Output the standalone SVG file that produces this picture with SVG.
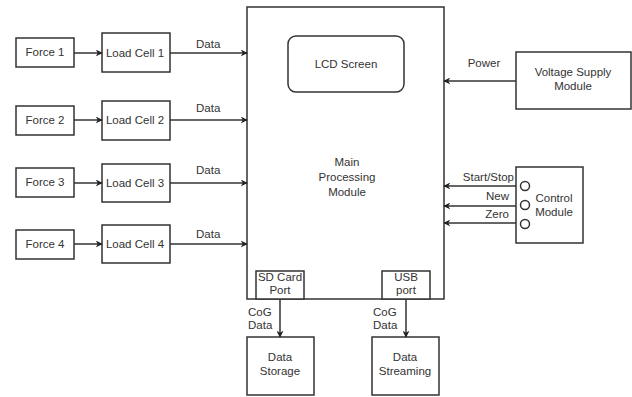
<svg xmlns="http://www.w3.org/2000/svg" width="632" height="397" viewBox="0 0 632 397">
<style>
.box{fill:#fff;stroke:#333;stroke-width:1.5}
.ln{fill:none;stroke:#333;stroke-width:1.5}
text{font-family:"Liberation Sans",Arial,sans-serif;font-size:11.5px;fill:#333}
.c{text-anchor:middle}
.r{text-anchor:end}
</style>
<defs>
<marker id="ah" viewBox="0 0 10 10" refX="9" refY="5" markerWidth="7" markerHeight="7" markerUnits="userSpaceOnUse" orient="auto">
<path d="M0,0 L10,5 L0,10 L3,5 Z" fill="#222"/>
</marker>
</defs>
<rect width="632" height="397" fill="#fff"/>
<g id="main">
<rect class="box" x="247" y="7" width="197" height="292"/>
<text class="c" x="347" y="166">Main</text>
<text class="c" x="347" y="181">Processing</text>
<text class="c" x="347" y="196">Module</text>
</g>
<g id="lcd">
<rect class="box" x="288" y="36" width="116" height="56" rx="8"/>
<text class="c" x="346" y="68">LCD Screen</text>
</g>
<g id="sdport">
<rect class="box" x="256" y="271" width="48" height="28"/>
<text class="c" x="280" y="281">SD Card</text>
<text class="c" x="280" y="294">Port</text>
</g>
<g id="usbport">
<rect class="box" x="382" y="271" width="48" height="28"/>
<text class="c" x="406" y="281">USB</text>
<text class="c" x="406" y="294">port</text>
</g>
<g id="force1"><rect class="box" x="16" y="38" width="58" height="29"/><text class="c" x="45" y="56">Force 1</text></g>
<g id="force2"><rect class="box" x="16" y="106" width="58" height="29"/><text class="c" x="45" y="124">Force 2</text></g>
<g id="force3"><rect class="box" x="16" y="168" width="58" height="29"/><text class="c" x="45" y="186">Force 3</text></g>
<g id="force4"><rect class="box" x="16" y="230" width="58" height="29"/><text class="c" x="45" y="248">Force 4</text></g>
<g id="cell1"><rect class="box" x="102" y="33" width="68" height="39"/><text class="c" x="135" y="57">Load Cell 1</text></g>
<g id="cell2"><rect class="box" x="102" y="101" width="68" height="39"/><text class="c" x="135" y="124">Load Cell 2</text></g>
<g id="cell3"><rect class="box" x="102" y="164" width="68" height="38"/><text class="c" x="135" y="187">Load Cell 3</text></g>
<g id="cell4"><rect class="box" x="102" y="225" width="68" height="38"/><text class="c" x="135" y="248">Load Cell 4</text></g>
<g id="voltage">
<rect class="box" x="516" y="52" width="115" height="57"/>
<text class="c" x="573" y="76">Voltage Supply</text>
<text class="c" x="573" y="90">Module</text>
</g>
<g id="control">
<rect class="box" x="516" y="167" width="67" height="76"/>
<circle class="box" cx="525" cy="186" r="4.5"/>
<circle class="box" cx="525" cy="205" r="4.5"/>
<circle class="box" cx="525" cy="224" r="4.5"/>
<text class="c" x="554" y="202">Control</text>
<text class="c" x="554" y="216">Module</text>
</g>
<g id="storage">
<rect class="box" x="247" y="337" width="67" height="58"/>
<text class="c" x="280" y="361">Data</text>
<text class="c" x="280" y="375">Storage</text>
</g>
<g id="streaming">
<rect class="box" x="372" y="337" width="67" height="58"/>
<text class="c" x="405" y="361">Data</text>
<text class="c" x="405" y="375">Streaming</text>
</g>
<g id="connectors">
<line class="ln" x1="74" y1="53" x2="102" y2="53" marker-end="url(#ah)"/>
<line class="ln" x1="74" y1="120" x2="102" y2="120" marker-end="url(#ah)"/>
<line class="ln" x1="74" y1="183" x2="102" y2="183" marker-end="url(#ah)"/>
<line class="ln" x1="74" y1="244" x2="102" y2="244" marker-end="url(#ah)"/>
<line class="ln" x1="170" y1="53" x2="247" y2="53" marker-end="url(#ah)"/>
<line class="ln" x1="170" y1="120" x2="247" y2="120" marker-end="url(#ah)"/>
<line class="ln" x1="170" y1="183" x2="247" y2="183" marker-end="url(#ah)"/>
<line class="ln" x1="170" y1="244" x2="247" y2="244" marker-end="url(#ah)"/>
<text x="196" y="48">Data</text>
<text x="196" y="112">Data</text>
<text x="196" y="174">Data</text>
<text x="196" y="238">Data</text>
<line class="ln" x1="516" y1="81" x2="444" y2="81" marker-end="url(#ah)"/>
<text class="c" x="484" y="67">Power</text>
<line class="ln" x1="516" y1="186" x2="444" y2="186" marker-end="url(#ah)"/>
<line class="ln" x1="516" y1="206" x2="444" y2="206" marker-end="url(#ah)"/>
<line class="ln" x1="516" y1="223" x2="444" y2="223" marker-end="url(#ah)"/>
<text class="r" x="514" y="181">Start/Stop</text>
<text class="r" x="509" y="200">New</text>
<text class="r" x="509" y="218">Zero</text>
<line class="ln" x1="280" y1="299" x2="280" y2="337" marker-end="url(#ah)"/>
<line class="ln" x1="406" y1="299" x2="406" y2="337" marker-end="url(#ah)"/>
<text x="248" y="316">CoG</text>
<text x="248" y="329">Data</text>
<text x="373" y="316">CoG</text>
<text x="373" y="329">Data</text>
</g>
</svg>
